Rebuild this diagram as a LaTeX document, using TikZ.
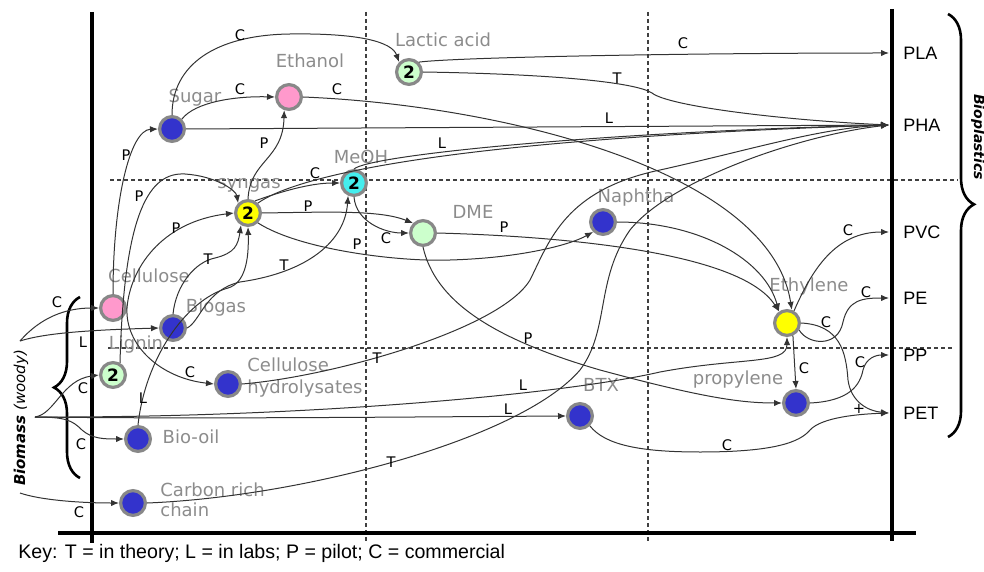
\documentclass[tikz,border=0pt]{standalone}
\usepackage{fontspec}
\setmainfont{DejaVu Sans}
\newfontfamily\arialfont{Liberation Sans}
\usepackage{tikz}
\usetikzlibrary{arrows.meta,positioning,calc,decorations.pathreplacing}

\definecolor{nblue}{HTML}{3333CC}
\definecolor{npink}{HTML}{FF99CC}
\definecolor{ngreen}{HTML}{CCFFCC}
\definecolor{ncyan}{HTML}{44EEEE}
\definecolor{nyellow}{HTML}{FFFF00}
\definecolor{nrim}{HTML}{888888}
\definecolor{ltext}{HTML}{8C8C8C}

\begin{document}
\begin{tikzpicture}[x=0.5pt, y=-0.5pt,
    proc/.style={circle, draw=nrim, line width=1.6pt, minimum size=12.4pt, inner sep=0pt,
      font=\fontsize{8.5}{9}\selectfont\bfseries},
    lbl/.style={text=ltext, font=\fontsize{9}{11}\selectfont, inner sep=0pt},
    tag/.style={font=\fontsize{7.3}{8}\selectfont, inner sep=0pt},
    tgt/.style={anchor=west, inner xsep=7pt, inner ysep=0pt, font=\arialfont\fontsize{9}{10}\selectfont},
    con/.style={draw=black!80, line width=0.5pt, -{Latex[length=4pt,width=3.2pt]}},
    axis/.style={line width=1.7pt},
    grid/.style={dash pattern=on 2pt off 1.5pt, line width=0.55pt, draw=black!75}]
  \useasboundingbox (0,0) rectangle (984,572);
  \foreach \gx in {366,648} \draw[grid] (\gx,12) -- (\gx,541);
  \draw[grid] (110,180) -- (958,180);
  \draw[grid] (108,348) -- (952,348);
  \draw[axis] (92,12) -- (92,543);
  \draw[axis] (58,533) -- (916,533);
  \draw[axis] (892,9) -- (892,541);
  \draw[decorate, decoration={brace, amplitude=13pt, aspect=0.5}, line width=1.3pt] (80,478) -- (80,297);
  \draw[decorate, decoration={brace, amplitude=13pt, aspect=0.45}, line width=1.3pt] (948,14) -- (948,437);
  \node[proc, fill=nblue]   (sugar)   at (172,129) {};
  \node[proc, fill=npink]   (ethanol) at (289,97)  {};
  \node[proc, fill=ngreen]  (lactic)  at (409,72)  {2};
  \node[proc, fill=ncyan]   (meoh)    at (354,183) {2};
  \node[proc, fill=nyellow] (syngas)  at (248,213) {2};
  \node[proc, fill=ngreen]  (dme)     at (423,233) {};
  \node[proc, fill=nblue]   (naphtha) at (603,222) {};
  \node[proc, fill=npink]   (cellu)   at (113,308) {};
  \node[proc, fill=nblue]   (biogas)  at (173,328) {};
  \node[proc, fill=ngreen]  (lignin)  at (113,375) {2};
  \node[proc, fill=nblue]   (hydro)   at (228,384) {};
  \node[proc, fill=nblue]   (biooil)  at (138,439) {};
  \node[proc, fill=nblue]   (carbon)  at (133,503) {};
  \node[proc, fill=nblue]   (btx)     at (580,416) {};
  \node[proc, fill=nyellow] (ethyl)   at (787,323) {};
  \node[proc, fill=nblue]   (propyl)  at (796,403) {};
  \node[lbl] (sugarT)   at (195,98)  {Sugar};
  \node[lbl] (ethanolT) at (310,61)  {Ethanol};
  \node[lbl] (lacticT)  at (443,40)  {Lactic acid};
  \node[lbl] (meohT)    at (361,157) {MeOH};
  \node[lbl] (syngasT)  at (249,185) {syngas};
  \node[lbl] (dmeT)     at (473,212) {DME};
  \node[lbl] (naphthaT) at (636,198) {Naphtha};
  \node[lbl] (celluT)   at (149,276) {Cellulose};
  \node[lbl] (biogasT)  at (216,308) {Biogas};
  \node[lbl] (ligninT)  at (136,345) {Lignin};
  \node[lbl, anchor=west, align=left] (hydroT) at (247,378) {Cellulose\\hydrolysates};
  \node[lbl] (biooilT)  at (191,437) {Bio-oil};
  \node[lbl, anchor=west, align=left, font=\fontsize{9}{10}\selectfont] (carbonT) at (160,500) {Carbon rich\\chain};
  \node[lbl] (btxT)     at (601,385) {BTX};
  \node[lbl] (ethylT)   at (809,287) {Ethylene};
  \node[lbl] (propylT)  at (738,380) {propylene};
  \node[tgt] (PLA) at (889,53)  {PLA};
  \node[tgt] (PHA) at (889,125) {PHA};
  \node[tgt] (PVC) at (889,232) {PVC};
  \node[tgt] (PE)  at (889,298) {PE};
  \node[tgt] (PP)  at (889,355) {PP};
  \node[tgt] (PET) at (889,413) {PET};
  \node[rotate=90, font=\fontsize{7.5}{8}\selectfont] (biomass) at (21,418) {\textbf{\textit{Biomass}} \textit{(woody)}};
  \node[rotate=-90, font=\fontsize{7}{8}\selectfont\bfseries\itshape] (biopl) at (978,137) {Bioplastics};
  \node[anchor=west, inner sep=0pt, font=\arialfont\fontsize{9.8}{11}\selectfont] (key) at (18,553)
    {Key: T = in theory; L = in labs; P = pilot; C = commercial};
  \coordinate (bmA) at (20,341);
  \coordinate (bmB) at (35,417);
  \coordinate (bmC) at (20,493);
  \draw[con] (bmA) .. controls (40,318) and (65,308) .. (cellu.west);
  \draw[con] (bmA) .. controls (45,333) and (90,330) .. (biogas.west);
  \draw[con] (bmB) .. controls (55,414) and (62,380) .. (lignin.west);
  \draw[con] (bmB) .. controls (65,417) and (72,420) .. (82,430) .. controls (92,439) and (105,439) .. (biooil.west);
  \draw[con] (bmB) .. controls (200,419) and (400,417) .. (btx.west);
  \draw[con] (bmB) .. controls (300,418) and (560,395) .. (660,372) .. controls (740,357) and (787,365) .. (ethyl.south);
  \draw[con] (bmC) .. controls (40,500) and (80,503) .. (carbon.west);
  \draw[con] (cellu.north) .. controls (113,200) and (130,130) .. (sugar.west);
  \draw[con] (lignin.60) .. controls (124,210) and (150,172) .. (185,174) .. controls (215,176) and (236,190) .. (syngas.north west);
  \draw[con] (cellu.east) .. controls (130,270) and (160,222) .. (syngas.west);
  \draw[con] (cellu.east) .. controls (125,345) and (160,378) .. (hydro.west);
  \draw[con] (biogas.north) .. controls (176,285) and (195,262) .. (215,258) .. controls (235,253) and (238,245) .. (syngas.240);
  \draw[con] (biooil.north) .. controls (145,360) and (185,300) .. (228,288) .. controls (245,283) and (249,260) .. (syngas.south);
  \draw[con] (biogas.east) .. controls (200,322) and (205,290) .. (240,282) .. controls (310,272) and (345,240) .. (meoh.245);
  \draw[con] (sugar.north) .. controls (172,65) and (215,35) .. (290,34) .. controls (360,33) and (392,42) .. (lactic.north west);
  \draw[con] (sugar.north east) .. controls (195,102) and (235,96) .. (ethanol.west);
  \draw[con] (sugar.east) -- (PHA.west);
  \draw[con] (ethanol.east) .. controls (500,105) and (770,170) .. (ethyl.70);
  \draw[con] (lactic.north east) .. controls (460,57) and (700,53) .. (PLA.west);
  \draw[con] (lactic.east) .. controls (550,74) and (635,82) .. (652,93) .. controls (668,106) and (780,120) .. (PHA.west);
  \draw[con] (meoh.north) .. controls (370,155) and (600,132) .. (PHA.west);
  \draw[con] (syngas.north east) .. controls (290,180) and (420,140) .. (PHA.west);
  \draw[con] (syngas.60) .. controls (280,192) and (310,183) .. (meoh.west);
  \draw[con] (syngas.north) .. controls (250,160) and (283,160) .. (ethanol.250);
  \draw[con] (syngas.east) .. controls (330,212) and (380,210) .. (dme.north west);
  \draw[con] (syngas.south east) .. controls (300,250) and (400,262) .. (450,260) .. controls (520,258) and (570,245) .. (naphtha.south west);
  \draw[con] (meoh.south) .. controls (356,222) and (385,233) .. (dme.west);
  \draw[con] (dme.east) .. controls (550,236) and (740,250) .. (ethyl.125);
  \draw[con] (naphtha.east) .. controls (700,222) and (765,260) .. (ethyl.125);
  \draw[con] (dme.south) .. controls (435,300) and (490,338) .. (600,370) .. controls (700,397) and (740,403) .. (propyl.west);
  \draw[con] (hydro.east) .. controls (330,377) and (500,330) .. (530,280) .. controls (550,240) and (565,190) .. (660,170) .. controls (750,150) and (820,128) .. (PHA.west);
  \draw[con] (carbon.east) .. controls (300,497) and (520,440) .. (580,370) .. controls (610,330) and (595,280) .. (630,230) .. controls (670,180) and (800,135) .. (PHA.west);
  \draw[con] (ethyl.60) .. controls (812,270) and (835,232) .. (PVC.west);
  \draw[con] (ethyl.-30) .. controls (808,345) and (838,348) .. (843,322) .. controls (848,300) and (862,298) .. (PE.west);
  \draw[con] (ethyl.east) .. controls (840,325) and (846,352) .. (848,380) .. controls (851,402) and (868,411) .. (PET.west);
  \draw[con] (ethyl.-65) -- (propyl.north);
  \draw[con] (propyl.east) .. controls (850,401) and (860,385) .. (863,370) .. controls (866,358) and (876,355) .. (PP.west);
  \draw[con] (btx.south east) .. controls (605,445) and (640,452) .. (700,452) .. controls (775,452) and (800,442) .. (810,430) .. controls (822,417) and (860,414) .. (PET.west);
  \foreach \tx/\ty/\tl [count=\i] in {240/35/C, 240/89/C, 126/155/P, 139/196/P, 176/228/P,
      208/259/T, 284/265/T, 143/398/L, 190/372/C, 57/302/C, 83/342/L, 83/388/C, 81/444/C,
      79/512/C, 264/143/P, 315/173/C, 308/206/P, 357/244/P, 386/238/C, 442/143/L,
      337/89/C, 609/118/L, 683/43/C, 617/78/T, 504/227/P, 528/338/P, 377/358/T,
      391/462/T, 523/385/L, 508/409/L, 848/230/C, 866/292/C, 826/322/C, 804/368/C,
      860/362/C, 727/445/C, 859/409/+}
    \node[tag] (tag\i) at (\tx,\ty) {\tl};
\end{tikzpicture}
\end{document}
